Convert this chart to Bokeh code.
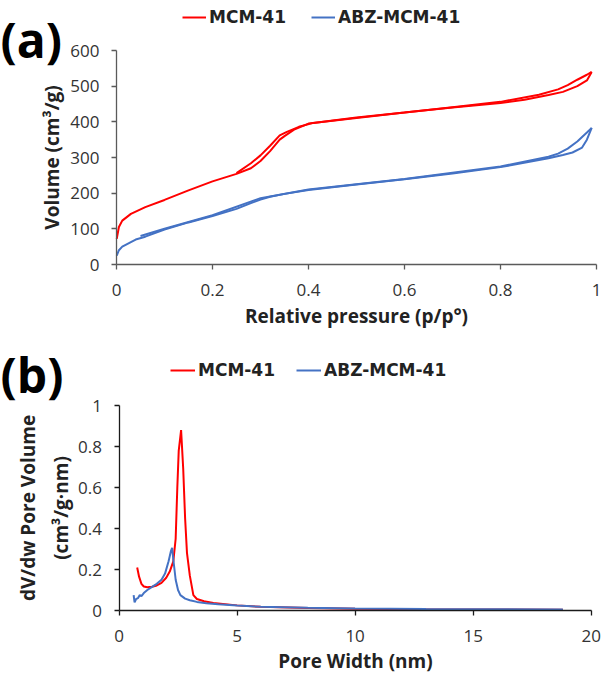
from bokeh.plotting import figure
from bokeh.models import (Range1d, FixedTicker, NumeralTickFormatter, Legend, LegendItem, Label)
from bokeh.layouts import column
from bokeh.embed import file_html
from bokeh.resources import INLINE

# ---------------- data (a) N2 isotherms ----------------
mcm_ads_p = [0.0005, 0.005, 0.012, 0.03, 0.06, 0.1, 0.15, 0.2, 0.25, 0.28, 0.3, 0.32, 0.34, 0.35, 0.37, 0.4,
             0.5, 0.6, 0.7, 0.8, 0.85, 0.9, 0.93, 0.96, 0.98, 0.99]
mcm_ads_v = [72, 105, 123, 142, 161, 181, 208, 233, 254, 270, 290, 318, 350, 360, 378, 395,
             411, 426, 440, 453, 462, 475, 484, 500, 516, 540]
mcm_des_p = [0.99, 0.98, 0.96, 0.94, 0.92, 0.88, 0.8, 0.7, 0.6, 0.5, 0.41, 0.38, 0.355, 0.34, 0.32, 0.3, 0.28, 0.25]
mcm_des_v = [540, 532, 518, 503, 491, 476, 456, 441, 426, 412, 397, 386, 372, 362, 333, 306, 284, 256]

abz_ads_p = [0.0005, 0.005, 0.012, 0.03, 0.04, 0.06, 0.1, 0.15, 0.2, 0.25, 0.28, 0.3, 0.32, 0.35, 0.4,
             0.5, 0.6, 0.7, 0.8, 0.9, 0.93, 0.95, 0.97, 0.98, 0.99]
abz_ads_v = [25, 40, 50, 63, 70, 78, 98, 118, 136, 156, 172, 182, 190, 198, 209,
             224, 239, 255, 273, 298, 307, 314, 328, 350, 383]
abz_des_p = [0.99, 0.98, 0.96, 0.94, 0.92, 0.9, 0.8, 0.6, 0.4, 0.3, 0.2, 0.1, 0.05]
abz_des_v = [383, 370, 345, 325, 311, 302, 275, 240, 210, 186, 138, 100, 80]

# ---------------- data (b) pore size distribution ----------------
mcm_w = [0.77, 0.85, 0.95, 1.05, 1.2, 1.4, 1.6, 1.8, 2.0, 2.15, 2.3, 2.4, 2.47, 2.53, 2.63, 2.72, 2.8, 2.88,
         3.0, 3.15, 3.3, 3.6, 4.0, 5.0, 6.0, 8.0, 10.0, 13.0, 16.0, 18.8]
mcm_dv = [0.21, 0.165, 0.13, 0.117, 0.113, 0.116, 0.122, 0.135, 0.16, 0.19, 0.24, 0.35, 0.6, 0.78, 0.88, 0.69, 0.45, 0.28,
          0.17, 0.075, 0.056, 0.045, 0.037, 0.025, 0.018, 0.012, 0.009, 0.006, 0.005, 0.004]
abz_w = [0.62, 0.66, 0.72, 0.8, 0.88, 0.95, 1.05, 1.2, 1.4, 1.6, 1.8, 1.95, 2.1, 2.2, 2.25, 2.3, 2.4, 2.5, 2.6,
         2.8, 3.0, 3.3, 3.7, 4.2, 5.0, 6.0, 8.0, 10.0, 13.0, 16.0, 18.8]
abz_dv = [0.075, 0.04, 0.055, 0.06, 0.075, 0.07, 0.085, 0.1, 0.115, 0.13, 0.15, 0.18, 0.24, 0.29, 0.305, 0.25, 0.15, 0.1, 0.075,
          0.058, 0.05, 0.042, 0.035, 0.03, 0.024, 0.018, 0.013, 0.01, 0.007, 0.006, 0.005]

series_names = ["MCM-41", "ABZ-MCM-41"]
colors = ["#FF0000", "#4472C4"]

a_xticks = [0, 0.2, 0.4, 0.6, 0.8, 1]
a_yticks = [0, 100, 200, 300, 400, 500, 600]
b_xticks = [0, 5, 10, 15, 20]
b_yticks = [0, 0.2, 0.4, 0.6, 0.8, 1]

FONT = "Open Sans"
LEGEND_FONT = "DejaVu Sans"
W = 604


def make_ranges(H, x0, x1, px0, px1, y0, y1, py0, py1):
    """Extend the data ranges so that the plotted box lands at the given canvas pixels."""
    sx = (px1 - px0) / (x1 - x0)
    sy = (py0 - py1) / (y1 - y0)
    xr = Range1d(x0 - px0 / sx, x1 + (W - px1) / sx)
    yr = Range1d(y0 - (H - py0) / sy, y1 + py1 / sy)
    return xr, yr


def style_axes(p, axis_color, xb, yb):
    for ax in (p.xaxis[0], p.yaxis[0]):
        ax.axis_line_color = axis_color
        ax.axis_line_width = 1.3
        ax.major_tick_line_color = axis_color
        ax.major_tick_line_width = 1.3
        ax.major_tick_in = 0
        ax.major_tick_out = 5
        ax.minor_tick_line_color = None
        ax.major_label_text_font = FONT
        ax.major_label_text_font_size = "17px"
        ax.major_label_text_color = "#333333"
        ax.axis_label_text_font = FONT
        ax.axis_label_text_font_size = "19px"
        ax.axis_label_text_font_style = "bold"
        ax.axis_label_text_color = "#222222"
        ax.fixed_location = 0
    p.xaxis.bounds = xb
    p.yaxis.bounds = yb
    p.xaxis.major_label_standoff = 14
    p.yaxis.major_label_standoff = 12
    p.xaxis.axis_label_standoff = 4
    p.xgrid.visible = False
    p.ygrid.visible = False
    p.outline_line_color = None


def add_legend(p, renderers, vx, vy, glyph_w, spacing):
    items = [LegendItem(label=n, renderers=[r]) for n, r in zip(series_names, renderers)]
    lg = Legend(items=items, orientation="horizontal", location=(vx, vy),
                padding=0, margin=0, spacing=spacing, glyph_width=glyph_w, glyph_height=20,
                label_height=20, label_standoff=3,
                label_text_font=LEGEND_FONT, label_text_font_size="17px", label_text_font_style="bold",
                label_text_color="#222222",
                background_fill_alpha=0, border_line_alpha=0)
    p.add_layout(lg)


def base_figure(H, xr, yr):
    return figure(width=W, height=H, title=None, x_range=xr, y_range=yr,
                  min_border_left=0, min_border_right=0, min_border_top=0, min_border_bottom=0,
                  output_backend="svg", toolbar_location=None)


# ---------------- panel (a) ----------------
HA = 330
xra, yra = make_ranges(HA, 0, 1, 116, 596, 0, 600, 264, 50)
pa = base_figure(HA, xra, yra)
ra1 = pa.line(mcm_ads_p, mcm_ads_v, line_color=colors[0], line_width=2)
pa.line(mcm_des_p, mcm_des_v, line_color=colors[0], line_width=2)
ra2 = pa.line(abz_ads_p, abz_ads_v, line_color=colors[1], line_width=2)
pa.line(abz_des_p, abz_des_v, line_color=colors[1], line_width=2)
style_axes(pa, "#5a5a5a", (0, 1), (0, 600))
pa.xaxis.ticker = FixedTicker(ticks=a_xticks)
pa.yaxis.ticker = FixedTicker(ticks=a_yticks)
pa.xaxis.formatter = NumeralTickFormatter(format="0.[0]")
pa.xaxis.axis_label = "Relative pressure (p/p°)"
pa.yaxis.axis_label = "Volume (cm³/g)"
pa.yaxis.axis_label_standoff = 2
add_legend(pa, [ra1, ra2], 182, HA - 27, 24, 25)
pa.add_layout(Label(x=0, y=HA - 39, x_units="screen", y_units="screen", text="(a)",
                    text_font=FONT, text_font_size="48px", text_font_style="bold",
                    text_baseline="alphabetic", text_align="left", text_color="#000000"))

# ---------------- panel (b) ----------------
HB = 344
xrb, yrb = make_ranges(HB, 0, 20, 118.5, 590.7, 0, 1, 280, 75)
pb = base_figure(HB, xrb, yrb)
rb1 = pb.line(mcm_w, mcm_dv, line_color=colors[0], line_width=2)
rb2 = pb.line(abz_w, abz_dv, line_color=colors[1], line_width=2)
style_axes(pb, "#1a1a1a", (0, 20), (0, 1))
pb.xaxis.ticker = FixedTicker(ticks=b_xticks)
pb.yaxis.ticker = FixedTicker(ticks=b_yticks)
pb.yaxis.formatter = NumeralTickFormatter(format="0.[0]")
pb.xaxis.axis_label = "Pore Width (nm)"
pb.xaxis.axis_label_standoff = 3
pb.yaxis.axis_label = "dV/dw Pore Volume\n(cm³/g·nm)"
pb.yaxis.axis_label_text_line_height = 1.25
pb.yaxis.axis_label_standoff = 2
add_legend(pb, [rb1, rb2], 170, HB - 50, 25, 21)
pb.add_layout(Label(x=0, y=HB - 44, x_units="screen", y_units="screen", text="(b)",
                    text_font=FONT, text_font_size="48px", text_font_style="bold",
                    text_baseline="alphabetic", text_align="left", text_color="#000000"))

layout = column(pa, pb, spacing=0)
open("out.html", "w").write(file_html(layout, INLINE))
